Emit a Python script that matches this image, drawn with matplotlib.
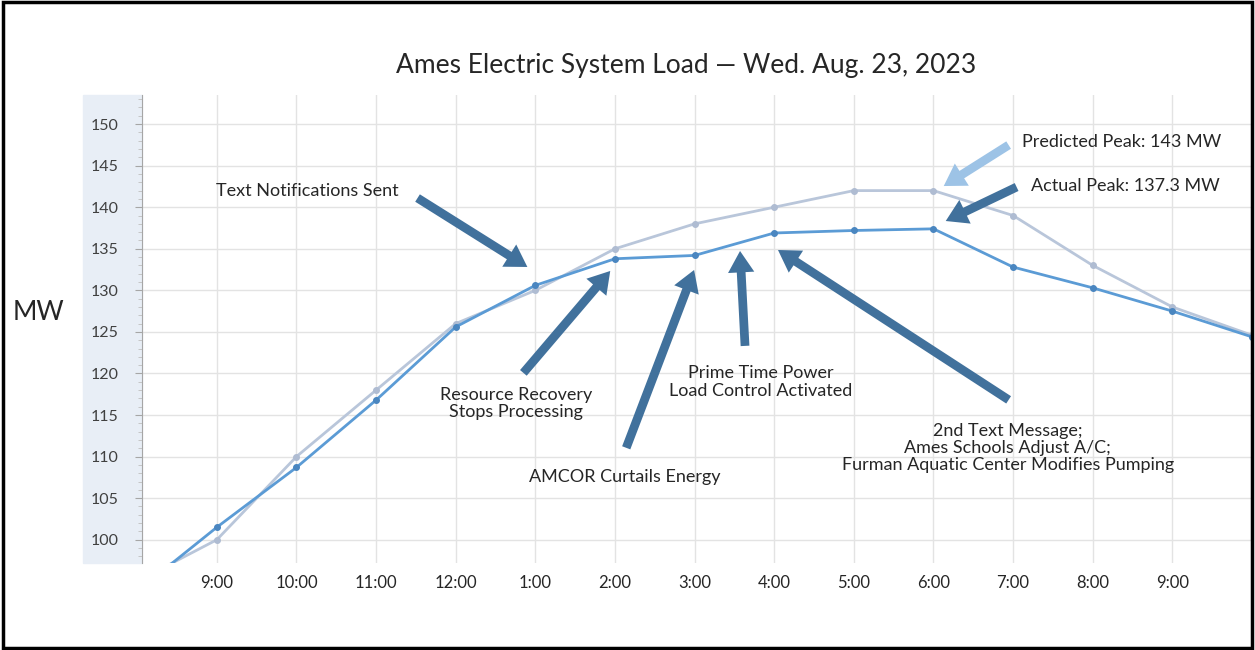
import numpy as np
import matplotlib.pyplot as plt
from matplotlib.patches import Rectangle

# hourly load, 8:00 AM through 10:00 PM
hours = ["8:00", "9:00", "10:00", "11:00", "12:00", "1:00", "2:00", "3:00",
         "4:00", "5:00", "6:00", "7:00", "8:00", "9:00", "10:00"]
actual_mw = [93.8, 101.5, 108.7, 116.8, 125.6, 130.6, 133.8, 134.2,
             136.9, 137.2, 137.4, 132.8, 130.3, 127.5, 124.4]
predicted_mw = [95.0, 100.0, 110.0, 118.0, 126.0, 130.0, 135.0, 138.0,
                140.0, 142.0, 142.0, 139.0, 133.0, 128.0, 124.6]

title = "Ames Electric System Load \u2014 Wed. Aug. 23, 2023"

W, H = 1255, 650
plt.rcParams['font.family'] = ['Lato', 'DejaVu Sans']

fig = plt.figure(figsize=(W / 100, H / 100), dpi=100)

# axes box in pixels
ax_l, ax_r, ax_t, ax_b = 142, 1252, 95, 563
ax = fig.add_axes([ax_l / W, 1 - ax_b / H, (ax_r - ax_l) / W, (ax_b - ax_t) / H])

x = np.arange(len(hours)) - 1  # 9:00 sits at x = 0

ax.plot(x, predicted_mw, color="#B9C6DA", lw=2, marker="o", ms=4,
        mfc="#AFBCD2", mec="#AFBCD2", zorder=3)
ax.plot(x, actual_mw, color="#5B9BD5", lw=2, marker="o", ms=4,
        mfc="#4A86C0", mec="#4A86C0", zorder=4)

ax.set_xlim(-0.94, 13.0)
ax.set_ylim(97.2, 153.5)
ax.set_xticks(x[1:-1])
ax.set_xticklabels(hours[1:-1], fontsize=12)
ax.set_yticks(np.arange(100, 151, 5))
ax.set_yticks(np.arange(98, 154, 1), minor=True)
ax.tick_params(axis="y", which="major", length=5, color="#A6A6A6", labelsize=11.5,
               labelcolor="#404040", pad=12)
ax.tick_params(axis="y", which="minor", length=3, color="#BFBFBF")
ax.tick_params(axis="x", length=0, pad=9, labelsize=12, labelcolor="#262626")
ax.grid(True, which="major", color="#E3E3E3", lw=1)
ax.set_axisbelow(True)
for s in ["top", "right", "bottom"]:
    ax.spines[s].set_visible(False)
ax.spines["left"].set_color("#A6A6A6")

# light band behind the y tick labels
band_w = (ax_l - 83) / (ax_r - ax_l)
ax.add_patch(Rectangle((-band_w, 0), band_w, 1, transform=ax.transAxes,
                       color="#E8EEF6", zorder=-5, clip_on=False))

fig.text(686 / W, 1 - 66 / H, title, ha="center", va="center", fontsize=19, color="#262626")
fig.text(38 / W, 1 - 312 / H, "MW", ha="center", va="center", fontsize=19, color="#262626")


def px(xp, yp):
    # pixel position in the picture -> data coordinates
    return ((xp - 217) / 79.75, 150 - (yp - 124) / 8.32)


dark = "#41719C"
light = "#9DC3E6"
arrows = [
    ((418, 198), (528, 267), dark),
    ((524, 373), (611, 271), dark),
    ((627, 448), (695, 270), dark),
    ((746, 346), (741, 251), dark),
    ((1010, 400), (779, 250), dark),
    ((1010, 145), (945, 186), light),
    ((1018, 187), (947, 221), dark),
]
for tail, head, c in arrows:
    ax.annotate("", xy=px(*head), xytext=px(*tail),
                arrowprops=dict(arrowstyle="simple,head_length=1.1,head_width=1.35,tail_width=0.45",
                                mutation_scale=14, color=c, lw=0, shrinkA=0, shrinkB=0),
                zorder=5, annotation_clip=False)

notes = [
    (308, 191, "Text Notifications Sent", "center"),
    (517, 404, "Resource Recovery\nStops Processing", "center"),
    (626, 477, "AMCOR Curtails Energy", "center"),
    (762, 382, "Prime Time Power\nLoad Control Activated", "center"),
    (1009, 448, "2nd Text Message;\nAmes Schools Adjust A/C;\nFurman Aquatic Center Modifies Pumping", "center"),
    (1023, 142, "Predicted Peak: 143 MW", "left"),
    (1032, 186, "Actual Peak: 137.3 MW", "left"),
]
for xp, yp, s, ha in notes:
    ax.text(*px(xp, yp), s, ha=ha, va="center", fontsize=13, color="#262626",
            linespacing=1.1, zorder=6)

# black frame round the whole picture
fig.patches.append(Rectangle((0.002, 0.003), 0.996, 0.994, transform=fig.transFigure,
                             fill=False, ec="black", lw=2.5, zorder=10))

fig.savefig("out.png", dpi=100)
